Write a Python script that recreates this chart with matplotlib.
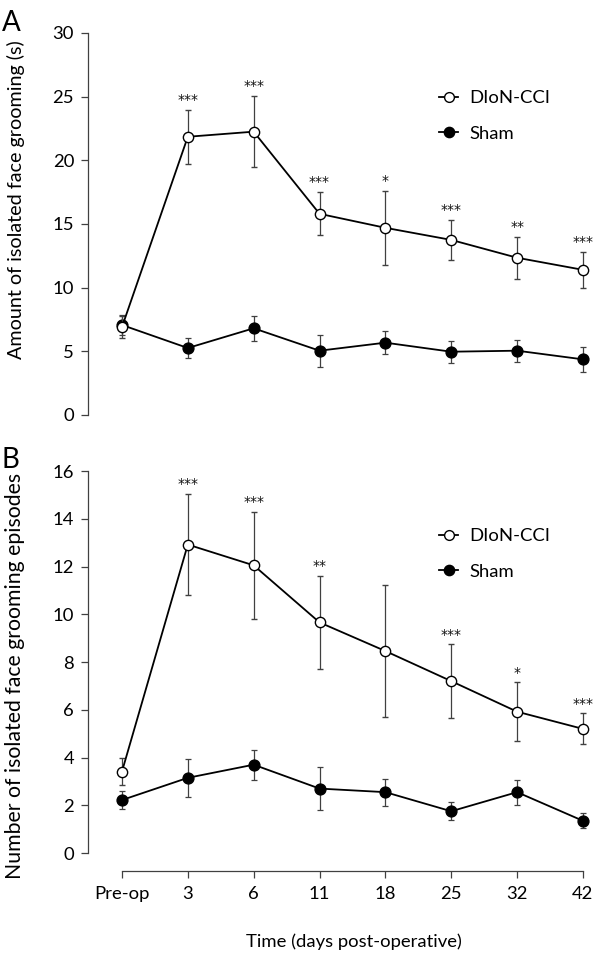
import matplotlib
matplotlib.use('Agg')
import matplotlib.pyplot as plt

plt.rcParams['font.family'] = ['Lato', 'DejaVu Sans']

days = ['Pre-op', '3', '6', '11', '18', '25', '32', '42']

# panel A - amount of isolated face grooming (s)
a_cci = [6.9, 21.85, 22.25, 15.8, 14.7, 13.75, 12.35, 11.4]
a_cci_err = [0.85, 2.1, 2.8, 1.7, 2.9, 1.55, 1.65, 1.4]
a_sham = [7.07, 5.26, 6.81, 5.05, 5.68, 4.97, 5.05, 4.37]
a_sham_err = [0.8, 0.75, 0.98, 1.25, 0.9, 0.88, 0.85, 1.0]
a_stars = ['', '***', '***', '***', '*', '***', '**', '***']

# panel B - number of isolated face grooming episodes
b_cci = [3.41, 12.92, 12.05, 9.66, 8.46, 7.2, 5.92, 5.2]
b_cci_err = [0.56, 2.13, 2.25, 1.95, 2.75, 1.54, 1.23, 0.65]
b_sham = [2.22, 3.15, 3.7, 2.7, 2.55, 1.75, 2.55, 1.35]
b_sham_err = [0.38, 0.8, 0.62, 0.9, 0.57, 0.38, 0.52, 0.32]
b_stars = ['', '***', '***', '**', '', '***', '*', '***']

x = list(range(len(days)))
grey = '#404040'
fs = 13.3

fig = plt.figure(figsize=(5.94, 9.56), dpi=100)
axA = fig.add_axes([0.1481, 0.5659, 0.8333, 0.3996])
axB = fig.add_axes([0.1481, 0.1077, 0.8333, 0.3996])


def panel(ax, cci, cci_err, sham, sham_err, stars, ymax, ystep):
    eb_s = ax.errorbar(x, sham, yerr=sham_err, color='black', lw=1.3, ecolor=grey,
                       elinewidth=0.9, capsize=2.3, capthick=0.9, marker='o', ms=7.8,
                       mfc='black', mec='black', clip_on=False, zorder=3)
    eb_c = ax.errorbar(x, cci, yerr=cci_err, color='black', lw=1.3, ecolor=grey,
                       elinewidth=0.9, capsize=2.3, capthick=0.9, marker='o', ms=7.4,
                       mfc='white', mec='black', mew=1.0, clip_on=False, zorder=4)
    for i, s in enumerate(stars):
        if s:
            ax.annotate(s, (x[i], cci[i] + cci_err[i]), xytext=(0, 2),
                        textcoords='offset points', ha='center', va='bottom',
                        fontsize=10, color='#111111', family='DejaVu Sans')
    ax.set_xlim(-0.516, 7)
    ax.set_ylim(0, ymax)
    ax.set_yticks(range(0, ymax + 1, ystep))
    for side in ['top', 'right']:
        ax.spines[side].set_visible(False)
    ax.spines['left'].set_color(grey)
    ax.spines['left'].set_linewidth(0.9)
    ax.tick_params(axis='y', length=5, width=0.9, color=grey, labelsize=fs, pad=5)
    ax.legend([eb_c[0], eb_s[0]], ['DIoN-CCI', 'Sham'], loc='upper left',
              bbox_to_anchor=(0.71, 0.85), frameon=False, fontsize=fs,
              handlelength=1.0, handletextpad=0.6, labelspacing=1.05,
              borderpad=0, borderaxespad=0, markerscale=0.95)


panel(axA, a_cci, a_cci_err, a_sham, a_sham_err, a_stars, 30, 5)
panel(axB, b_cci, b_cci_err, b_sham, b_sham_err, b_stars, 16, 2)

# panel A has no x axis
axA.spines['bottom'].set_visible(False)
axA.set_xticks([])

axB.spines['bottom'].set_position(('outward', 13))
axB.spines['bottom'].set_bounds(0, 7)
axB.spines['bottom'].set_color(grey)
axB.spines['bottom'].set_linewidth(0.9)
axB.set_xticks(x)
axB.set_xticklabels(days)
axB.tick_params(axis='x', length=5, width=0.9, color=grey, labelsize=fs, pad=6)
axB.set_xlabel('Time (days post-operative)', fontsize=fs)
axB.xaxis.set_label_coords(0.537, -0.21)

axA.set_ylabel('Amount of isolated face grooming (s)', fontsize=14.2)
axA.yaxis.set_label_coords(-0.128, 0.565)
axB.set_ylabel('Number of isolated face grooming episodes', fontsize=15.3)
axB.yaxis.set_label_coords(-0.128, 0.463)

fig.text(0.003, 0.976, 'A', fontsize=20, va='center', ha='left')
fig.text(0.003, 0.519, 'B', fontsize=20, va='center', ha='left')

fig.savefig('out.png', dpi=100)
